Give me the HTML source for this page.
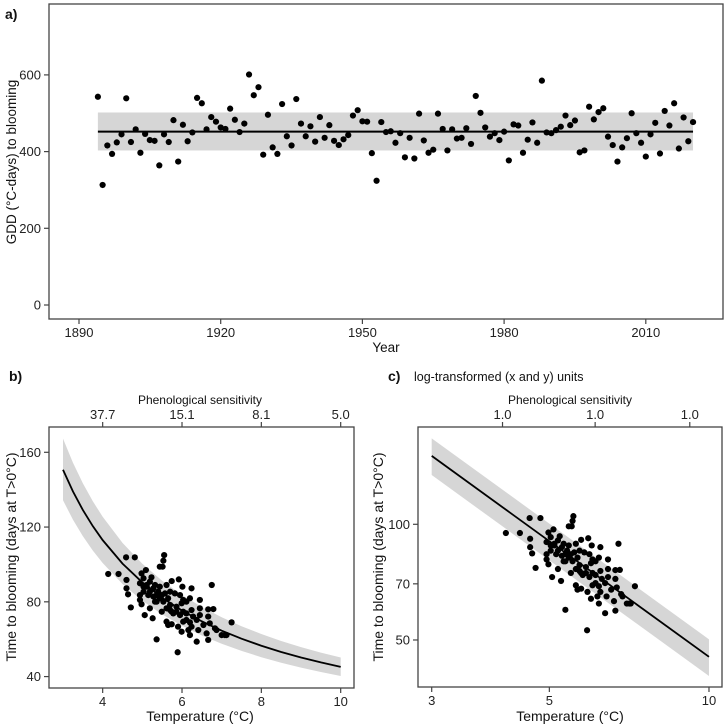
<!DOCTYPE html>
<html><head><meta charset="utf-8">
<style>
html,body{margin:0;padding:0;background:#fff;}
svg{display:block;font-family:"Liberation Sans",Arial,sans-serif;}
</style></head>
<body>
<svg id="fig" width="725" height="727" viewBox="0 0 725 727">
<rect width="725" height="727" fill="#fff"/>
<g id="pa"></g>
<g id="pb"></g>
<g id="pc"></g>
</svg>
<script>
// Panel a data
const gddYears0 = 1894;
const gddValues = [543,313,416,394,424,445,539,425,458,397,446,430,428,364,445,425,482,374,470,427,450,540,526,458,490,478,463,459,512,483,451,473,601,547,568,392,496,411,394,524,440,416,537,473,440,466,426,490,436,469,428,417,432,443,494,508,479,478,396,324,477,451,453,423,448,385,436,382,499,429,397,405,499,459,403,458,434,436,461,420,545,501,463,439,448,430,452,377,471,468,397,431,476,423,585,450,448,456,465,494,469,481,398,403,517,484,503,513,439,417,374,411,435,500,448,423,387,445,475,395,506,468,526,408,489,427,477];
const gddMean = 452;
const gddLow = 403;
const gddHigh = 502;
const aXTicks = [1890,1920,1950,1980,2010];
const aYTicks = [0,200,400,600];
// Panels b/c data
const tempVals = [4.14,4.40,4.59,4.81,5.55,5.53,5.44,5.51,4.98,5.09,5.23,4.60,5.03,4.94,5.11,5.19,5.32,5.44,5.61,5.74,5.92,6.01,6.24,6.75,4.60,4.64,4.94,5.03,5.15,5.28,5.40,5.49,5.57,5.70,5.82,5.95,6.03,6.20,6.45,4.94,4.98,4.71,5.19,5.36,5.53,5.70,5.86,5.99,6.11,6.24,6.45,6.66,6.79,5.06,5.26,5.49,5.70,5.78,5.95,6.11,6.28,6.45,6.66,5.61,5.74,6.03,6.20,6.37,6.54,6.70,6.83,7.25,5.99,6.16,6.41,6.62,6.87,7.00,7.08,7.12,6.20,6.37,6.66,5.36,5.89,5.11,5.28,5.36,5.44,5.65,5.03,5.19,5.32,5.61,5.74,5.86,6.03,6.11,5.90,5.65,6.24];
const daysVals = [94.9,94.9,103.8,103.8,105.0,102.0,98.8,98.8,95.2,97.0,93.1,91.7,92.6,89.9,89.0,90.8,89.0,88.1,89.0,91.1,92.0,88.1,87.2,89.0,87.2,84.0,83.6,85.4,83.6,82.8,85.4,83.6,84.5,85.4,84.5,83.6,81.0,81.9,81.0,81.0,78.7,77.0,76.5,80.1,80.1,78.3,77.4,79.2,80.1,75.6,76.5,76.0,76.1,72.9,71.2,74.7,75.6,73.8,72.9,73.8,72.1,72.9,72.1,69.4,68.0,69.4,69.0,70.3,67.6,68.5,65.8,69.0,64.0,64.9,64.9,63.1,64.9,62.2,62.2,62.2,62.2,58.7,59.6,59.9,53.0,88.1,87.2,83.6,81.9,81.9,88.1,85.4,80.1,76.5,74.7,74.7,74.7,70.3,66.7,67.6,66.7];
const bXTicks = [4,6,8,10];
const bYTicks = [40,80,120,160];
const bTopTicks = [4,6,8,10];
const bTopLabels = ["37.7","15.1","8.1","5.0"];
const cXTicks = [3,5,10];
const cYTicks = [50,70,100];
const cTopTicks = [4.08,6.1,9.2];
const cTopLabels = ["1.0","1.0","1.0"];
const curveT = [3,3.25,3.5,3.75,4,4.5,5,5.5,6,6.5,7,7.5,8,8.5,9,9.5,10];

const NS="http://www.w3.org/2000/svg";
function mk(parent,tag,attrs,text){const e=document.createElementNS(NS,tag);for(const k in attrs)e.setAttribute(k,attrs[k]);if(text!==undefined)e.textContent=text;parent.appendChild(e);return e;}

function frame(g,x0,y0,x1,y1){
  const r=mk(g,'rect',{x:x0,y:y0,width:x1-x0,height:y1-y0,fill:'none',stroke:'#444','stroke-width':1.3});
  
  
}
function xTick(g,x,y,label,up){
  const l=mk(g,'line',{x1:x,x2:x,y1:up?y-5:y,y2:up?y:y+5,stroke:'#444','stroke-width':1.2});
  
  
  const t=mk(g,'text',{x:x,y:up?y-8:y+18,'text-anchor':'middle','font-size':13,fill:'#222'},label);
  
  
}
function yTick(g,x,y,label){
  const l=mk(g,'line',{x1:x-5,x2:x,y1:y,y2:y,stroke:'#444','stroke-width':1.2});
  
  
  const t=mk(g,'text',{x:x-8,y:y+4.5,'text-anchor':'end','font-size':13,fill:'#222'},label);
  
  
}
function label(g,x,y,txt,opts,name){
  const a=Object.assign({x:x,y:y,'font-size':13.5,fill:'#111','text-anchor':'middle'},opts||{});
  const t=mk(g,'text',a,txt);
  
  
  return t;
}
function dot(g,x,y){
  const c=mk(g,'circle',{cx:x,cy:y,r:3.1,fill:'#000'});
  
  
}

// ---------- Panel a ----------
(function(){
  const g=document.getElementById('pa');
  const X=v=>79+(v-1890)*(141.7/30);
  const Y=v=>305-v*(76.7/200);
  const x0=49,x1=723,y0=4,y1=319;
  const lastYear=gddYears0+gddValues.length-1;
  const band=mk(g,'rect',{x:X(gddYears0),y:Y(gddHigh),width:X(lastYear)-X(gddYears0),height:Y(gddLow)-Y(gddHigh),fill:'#d6d6d6'});
  
  
  const ml=mk(g,'line',{x1:X(gddYears0),x2:X(lastYear),y1:Y(gddMean),y2:Y(gddMean),stroke:'#000','stroke-width':2});
  
  
  gddValues.forEach((v,i)=>dot(g,X(gddYears0+i),Y(v)));
  frame(g,x0,y0,x1,y1);
  aXTicks.forEach(t=>xTick(g,X(t),y1,String(t)));
  aYTicks.forEach(t=>yTick(g,x0,Y(t),String(t)));
  label(g,386,352,'Year',{},'x-axis-title');
  label(g,16,162,'GDD (°C-days) to blooming',{transform:'rotate(-90 16 162)'},'y-axis-title');
  label(g,5,19,'a)',{'text-anchor':'start','font-weight':'bold','font-size':14},'panel-label-a');
})();

// ---------- Panel b ----------
(function(){
  const g=document.getElementById('pb');
  const X=v=>63+(v-3)*39.67;
  const Y=v=>452.3+(160-v)*1.869;
  const x0=49,x1=354,y0=427,y1=688;
  let up=[],lo=[],mid=[];
  curveT.forEach(t=>{up.push([X(t),Y(gddHigh/t)]);lo.push([X(t),Y(gddLow/t)]);mid.push([X(t),Y(gddMean/t)]);});
  const bp=mk(g,'path',{d:'M'+up.map(p=>p.join(',')).join('L')+'L'+lo.reverse().map(p=>p.join(',')).join('L')+'Z',fill:'#d6d6d6'});
  
  
  const lp=mk(g,'path',{d:'M'+mid.map(p=>p.join(',')).join('L'),fill:'none',stroke:'#000','stroke-width':1.8});
  
  
  tempVals.forEach((t,i)=>dot(g,X(t),Y(daysVals[i])));
  frame(g,x0,y0,x1,y1);
  bXTicks.forEach(t=>xTick(g,X(t),y1,String(t)));
  bYTicks.forEach(t=>yTick(g,x0,Y(t),String(t)));
  bTopTicks.forEach((t,i)=>xTick(g,X(t),y0,bTopLabels[i],true));
  label(g,200,404,'Phenological sensitivity',{'font-size':12},'top-axis-title');
  label(g,200,721,'Temperature (°C)',{'font-size':14},'x-axis-title');
  label(g,16,557,'Time to blooming (days at T>0°C)',{'font-size':14,transform:'rotate(-90 16 557)'},'y-axis-title');
  label(g,9,381,'b)',{'text-anchor':'start','font-weight':'bold','font-size':14},'panel-label-b');
})();

// ---------- Panel c ----------
(function(){
  const g=document.getElementById('pc');
  const X=v=>431.7+(Math.log10(v)-Math.log10(3))*530.3;
  const Y=v=>524.3-(Math.log10(v)-2)*384.3;
  const x0=418,x1=722,y0=427,y1=687;
  const tA=3,tB=10;
  const bp=mk(g,'path',{d:`M${X(tA)},${Y(gddHigh/tA)}L${X(tB)},${Y(gddHigh/tB)}L${X(tB)},${Y(gddLow/tB)}L${X(tA)},${Y(gddLow/tA)}Z`,fill:'#d6d6d6'});
  
  
  const lp=mk(g,'line',{x1:X(tA),y1:Y(gddMean/tA),x2:X(tB),y2:Y(gddMean/tB),stroke:'#000','stroke-width':1.8});
  
  
  tempVals.forEach((t,i)=>dot(g,X(t),Y(daysVals[i])));
  frame(g,x0,y0,x1,y1);
  cXTicks.forEach(t=>xTick(g,X(t),y1,String(t)));
  cYTicks.forEach(t=>yTick(g,x0,Y(t),String(t)));
  cTopTicks.forEach((t,i)=>xTick(g,X(t),y0,cTopLabels[i],true));
  label(g,570,404,'Phenological sensitivity',{'font-size':12},'top-axis-title');
  label(g,570,721,'Temperature (°C)',{'font-size':14},'x-axis-title');
  label(g,383,557,'Time to blooming (days at T>0°C)',{'font-size':14,transform:'rotate(-90 383 557)'},'y-axis-title');
  label(g,388,381,'c)',{'text-anchor':'start','font-weight':'bold','font-size':14},'panel-label-c');
  label(g,414,381,'log-transformed (x and y) units',{'text-anchor':'start','font-size':12.5},'panel-subtitle-c');
})();
</script>
</body></html>
